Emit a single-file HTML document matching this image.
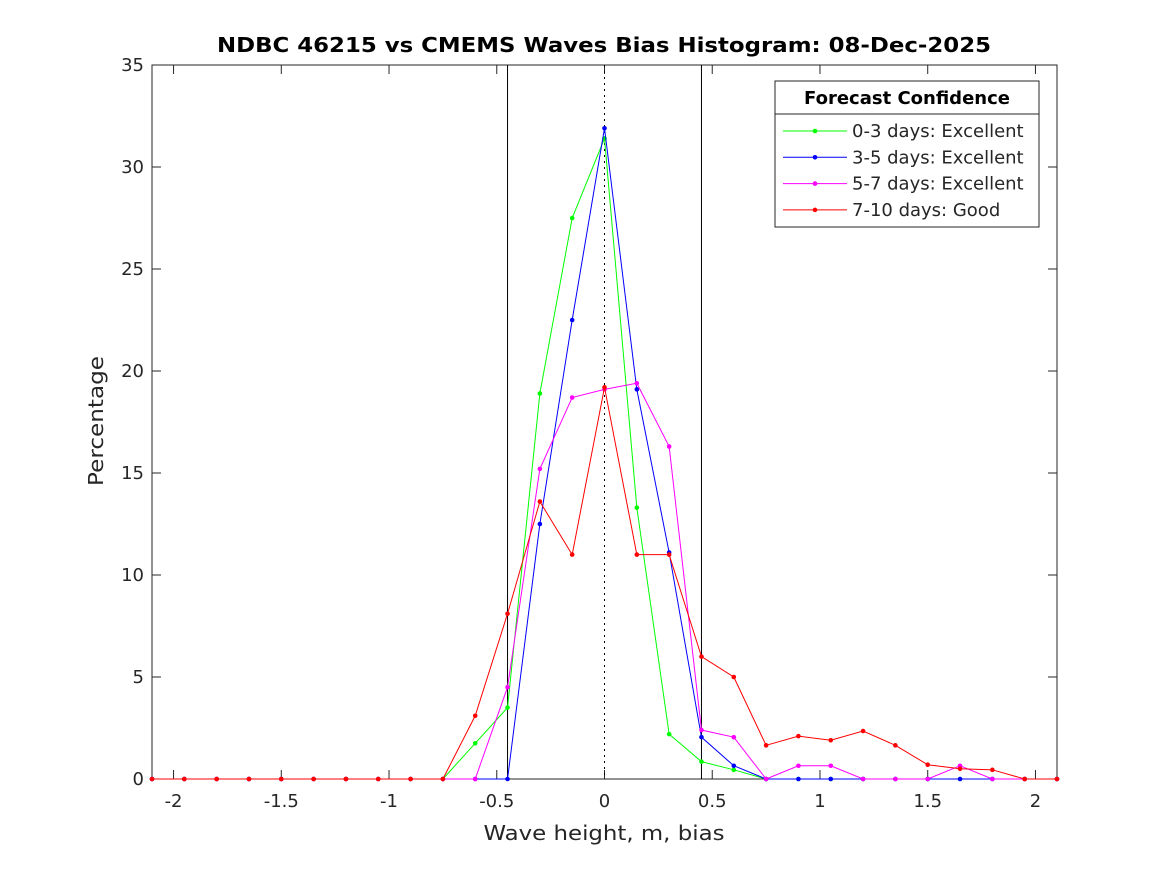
<!DOCTYPE html>
<html><head><meta charset="utf-8"><style>
body{margin:0;background:#fff;}
svg{display:block;font-family:"DejaVu Sans","Liberation Sans",sans-serif;}
</style></head><body>
<svg id="chart" width="1167" height="875">
<rect width="1167" height="875" fill="#fff"/>
<text x="604" y="52" text-anchor="middle" font-size="20" font-weight="bold" textLength="774" lengthAdjust="spacingAndGlyphs">NDBC 46215 vs CMEMS Waves Bias Histogram: 08-Dec-2025</text>
<g id="axes"></g>
<g id="series"></g>
<text x="604" y="840" text-anchor="middle" font-size="20" fill="#262626" textLength="241" lengthAdjust="spacingAndGlyphs">Wave height, m, bias</text>
<text transform="translate(103,421) rotate(-90)" text-anchor="middle" font-size="20" fill="#262626" textLength="130" lengthAdjust="spacingAndGlyphs">Percentage</text>
<g id="legend"></g>
</svg>
<script>
const xs=[-2.1,-1.95,-1.8,-1.65,-1.5,-1.35,-1.2,-1.05,-0.9,-0.75,-0.6,-0.45,-0.3,-0.15,0,0.15,0.3,0.45,0.6,0.75,0.9,1.05,1.2,1.35,1.5,1.65,1.8,1.95,2.1];
const green=[0,0,0,0,0,0,0,0,0,0,1.75,3.5,18.9,27.5,31.4,13.3,2.2,0.85,0.45,0,0,0,0,0,0,0,0,0,0];
const blue=[0,0,0,0,0,0,0,0,0,0,0,0,12.5,22.5,31.9,19.1,11.1,2.05,0.65,0,0,0,0,0,0,0,0,0,0];
const magenta=[0,0,0,0,0,0,0,0,0,0,0,4.5,15.2,18.7,19.1,19.4,16.3,2.4,2.05,0,0.65,0.65,0,0,0,0.65,0,0,0];
const red=[0,0,0,0,0,0,0,0,0,0,3.1,8.1,13.6,11.0,19.2,11.0,11.0,6.0,5.0,1.65,2.1,1.9,2.35,1.65,0.7,0.5,0.45,0,0];
const xTicks=[-2,-1.5,-1,-0.5,0,0.5,1,1.5,2];
const xTickLabels=["-2","-1.5","-1","-0.5","0","0.5","1","1.5","2"];
const yTicks=[0,5,10,15,20,25,30,35];
const legendLabels=["0-3 days: Excellent","3-5 days: Excellent","5-7 days: Excellent","7-10 days: Good"];
const colors=["#00ff00","#0000ff","#ff00ff","#ff0000"];
const L=152,R=1057,T=65,B=779;
const X=v=>L+(v+2.1)/4.2*(R-L);
const Y=v=>B-v/35*(B-T);
const NS="http://www.w3.org/2000/svg";
function mk(p,tag,a){const e=document.createElementNS(NS,tag);for(const k in a)e.setAttribute(k,a[k]);p.appendChild(e);return e;}
const ax=document.getElementById('axes');
let box=mk(ax,'rect',{x:L,y:T,width:R-L,height:B-T,fill:'none',stroke:'#262626','stroke-width':1});


xTicks.forEach((t,i)=>{const x=X(t);
mk(ax,'line',{x1:x,x2:x,y1:B,y2:B-9,stroke:'#262626'});
mk(ax,'line',{x1:x,x2:x,y1:T,y2:T+9,stroke:'#262626'});
const tx=mk(ax,'text',{x:x,y:B+28,'text-anchor':'middle','font-size':18,fill:'#262626'});tx.textContent=xTickLabels[i];

});
yTicks.forEach(t=>{const y=Y(t);
mk(ax,'line',{x1:L,x2:L+9,y1:y,y2:y,stroke:'#262626'});
mk(ax,'line',{x1:R,x2:R-9,y1:y,y2:y,stroke:'#262626'});
const tx=mk(ax,'text',{x:L-8,y:y+6,'text-anchor':'end','font-size':18,fill:'#262626'});tx.textContent=t;

});
[-0.45,0.45].forEach(v=>{const l=mk(ax,'line',{x1:X(v),x2:X(v),y1:T,y2:B,stroke:'#000'});

});
const zl=mk(ax,'line',{x1:X(0),x2:X(0),y1:T,y2:B,stroke:'#000','stroke-dasharray':'2,4'});


const sg=document.getElementById('series');
[green,blue,magenta,red].forEach((d,i)=>{
const pl=mk(sg,'polyline',{points:d.map((v,j)=>X(xs[j])+','+Y(v)).join(' '),fill:'none',stroke:colors[i],'stroke-width':1});


d.forEach((v,j)=>{const c=mk(sg,'circle',{cx:X(xs[j]),cy:Y(v),r:2.3,fill:colors[i]});

});});
const lg=document.getElementById('legend');


mk(lg,'rect',{x:775,y:81,width:264,height:146,fill:'#fff',stroke:'#262626'});
mk(lg,'line',{x1:775,x2:1039,y1:114,y2:114,stroke:'#262626'});
const lt=mk(lg,'text',{x:907,y:104,'text-anchor':'middle','font-size':18,'font-weight':'bold'});lt.textContent='Forecast Confidence';
legendLabels.forEach((s,i)=>{const y=131+i*26.3;
mk(lg,'line',{x1:783,x2:847,y1:y,y2:y,stroke:colors[i]});
mk(lg,'circle',{cx:815,cy:y,r:2.3,fill:colors[i]});
const t=mk(lg,'text',{x:852,y:y+6,'font-size':18,fill:'#262626'});t.textContent=s;

});
</script>
</body></html>
